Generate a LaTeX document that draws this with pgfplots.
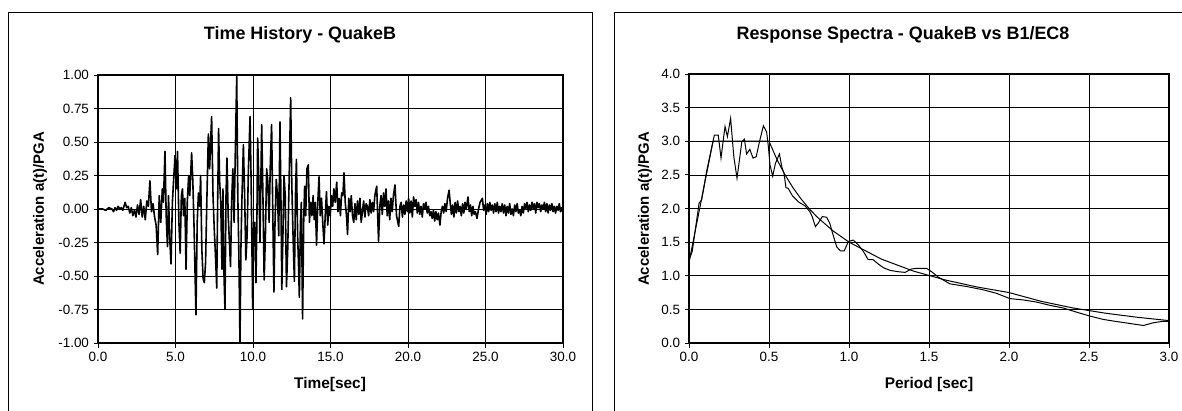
\documentclass[border=0pt]{standalone}
\usepackage{fontspec}
\setmainfont{Liberation Sans}
\usepackage{pgfplots}
\pgfplotsset{compat=1.18}

\pgfplotstableread{
t a
0.00 0.00
0.30 0.00
0.50 -0.01
0.70 0.01
0.90 0.00
1.00 -0.02
1.10 0.01
1.20 -0.01
1.30 0.02
1.40 0.00
1.50 0.01
1.60 -0.01
1.75 0.05
1.85 0.01
1.95 0.02
2.05 -0.03
2.15 0.01
2.25 -0.05
2.35 -0.01
2.45 -0.06
2.55 0.03
2.65 -0.04
2.75 0.07
2.85 -0.06
2.95 0.02
3.05 -0.08
3.15 0.06
3.25 0.02
3.35 0.21
3.45 -0.02
3.55 0.04
3.65 -0.06
3.75 -0.12
3.85 -0.34
3.95 0.10
4.05 -0.10
4.15 0.15
4.22 0.05
4.32 0.43
4.40 -0.05
4.48 -0.28
4.55 0.10
4.62 -0.20
4.71 -0.41
4.80 0.05
4.88 0.22
4.97 0.40
5.05 0.15
5.13 0.43
5.22 -0.10
5.30 -0.33
5.38 0.10
5.45 0.15
5.52 -0.05
5.60 0.08
5.68 -0.45
5.76 0.05
5.85 0.25
5.92 0.10
6.04 0.42
6.12 0.20
6.20 -0.15
6.32 -0.79
6.40 -0.10
6.48 0.12
6.56 0.02
6.62 0.25
6.70 -0.30
6.78 -0.52
6.86 -0.55
6.94 -0.40
7.02 0.05
7.12 0.56
7.20 0.30
7.33 0.69
7.42 0.10
7.50 -0.15
7.58 -0.35
7.66 -0.59
7.72 0.05
7.78 0.60
7.85 0.20
7.92 0.05
8.00 -0.45
8.06 0.15
8.12 -0.45
8.19 -0.75
8.26 0.10
8.32 0.38
8.40 -0.05
8.48 -0.25
8.55 -0.43
8.62 0.05
8.70 0.30
8.78 -0.10
8.86 0.43
8.95 0.99
9.02 0.10
9.09 -0.35
9.16 -1.00
9.22 -0.30
9.28 0.05
9.38 0.48
9.46 0.10
9.54 -0.38
9.62 -0.20
9.70 0.28
9.81 0.69
9.88 0.20
9.98 -0.75
10.04 -0.10
10.12 -0.10
10.19 -0.55
10.25 -0.10
10.30 0.53
10.38 0.20
10.45 -0.25
10.56 0.63
10.64 0.10
10.72 -0.53
10.80 -0.20
10.88 0.30
10.96 0.20
11.04 -0.10
11.12 0.35
11.20 0.63
11.28 -0.05
11.35 -0.62
11.42 -0.10
11.50 0.22
11.58 0.10
11.66 -0.20
11.74 0.65
11.80 0.10
11.86 -0.60
11.93 -0.20
12.00 0.25
12.08 0.10
12.16 -0.58
12.24 -0.30
12.32 0.15
12.43 0.83
12.50 0.20
12.58 -0.18
12.67 -0.54
12.74 0.10
12.80 0.37
12.88 -0.20
12.94 -0.43
12.99 -0.66
13.06 -0.10
13.12 0.05
13.20 -0.82
13.27 -0.10
13.33 0.17
13.40 -0.05
13.48 0.30
13.57 0.33
13.64 -0.10
13.72 0.05
13.80 -0.05
13.88 0.10
13.95 -0.08
14.02 0.05
14.10 -0.27
14.18 0.05
14.26 0.24
14.34 -0.05
14.42 0.08
14.50 -0.10
14.58 -0.26
14.66 -0.05
14.74 0.13
14.82 -0.12
14.90 0.02
14.98 -0.05
15.06 0.10
15.14 0.02
15.22 0.15
15.30 0.05
15.40 0.20
15.48 -0.02
15.56 0.08
15.64 -0.05
15.72 0.12
15.80 0.10
15.87 0.27
15.95 0.05
16.03 -0.05
16.10 -0.19
16.18 0.08
16.26 -0.02
16.34 0.10
16.42 -0.05
16.50 -0.10
16.58 0.04
16.66 -0.08
16.74 0.06
16.82 -0.04
16.90 0.08
16.98 -0.10
17.06 -0.02
17.14 0.06
17.22 -0.06
17.30 0.04
17.38 0.02
17.46 -0.05
17.54 0.07
17.62 -0.03
17.70 0.05
17.78 -0.02
17.86 0.10
17.98 0.17
18.10 -0.24
18.18 0.02
18.26 0.10
18.34 -0.04
18.42 0.12
18.50 0.02
18.58 0.15
18.66 -0.05
18.74 0.06
18.82 -0.08
18.90 0.08
18.98 -0.02
19.06 0.10
19.16 0.18
19.26 -0.05
19.40 -0.13
19.48 0.02
19.56 0.05
19.64 -0.06
19.72 0.03
19.80 -0.04
19.88 0.06
19.96 -0.02
20.04 0.08
20.12 -0.03
20.20 0.06
20.28 -0.06
20.36 0.09
20.44 0.02
20.52 0.07
20.60 -0.03
20.68 0.05
20.76 -0.04
20.84 0.02
20.92 -0.06
21.00 0.04
21.08 0.00
21.16 0.05
21.24 -0.03
21.32 0.02
21.40 -0.05
21.48 -0.02
21.56 -0.07
21.64 -0.01
21.72 -0.09
21.80 -0.02
21.88 -0.08
21.96 -0.03
22.06 -0.12
22.14 -0.02
22.22 0.02
22.30 -0.03
22.38 0.04
22.46 -0.02
22.55 0.08
22.65 0.14
22.72 0.05
22.80 -0.04
22.88 0.03
22.96 -0.06
23.04 0.05
23.12 -0.03
23.20 0.06
23.28 -0.02
23.36 0.02
23.44 -0.05
23.52 0.04
23.60 -0.03
23.68 0.05
23.76 0.00
23.87 0.09
23.95 -0.02
24.03 0.03
24.11 -0.05
24.19 0.02
24.27 -0.04
24.35 -0.02
24.45 -0.07
24.55 0.00
24.65 0.05
24.80 0.08
24.88 -0.01
24.96 0.03
25.04 -0.04
25.12 0.04
25.20 -0.02
25.28 0.05
25.36 -0.01
25.44 0.03
25.52 -0.03
25.60 0.04
25.68 -0.02
25.76 0.05
25.84 -0.03
25.92 0.02
26.00 -0.02
26.08 0.04
26.16 -0.03
26.24 0.03
26.32 -0.05
26.40 0.02
26.48 -0.03
26.56 0.04
26.64 -0.04
26.72 0.00
26.80 -0.05
26.88 0.03
26.96 -0.02
27.04 0.04
27.12 -0.03
27.20 -0.01
27.28 -0.05
27.36 0.02
27.44 -0.03
27.52 0.04
27.60 0.00
27.68 0.05
27.76 -0.02
27.84 0.03
27.92 -0.01
28.00 0.05
28.08 0.00
28.16 0.04
28.24 -0.03
28.32 0.05
28.40 0.01
28.48 0.04
28.56 -0.02
28.64 0.03
28.72 0.00
28.80 0.05
28.88 -0.02
28.96 0.04
29.04 -0.03
29.12 0.03
29.20 -0.01
29.28 0.04
29.36 -0.02
29.44 0.02
29.52 -0.03
29.60 0.02
29.68 -0.01
29.76 0.04
29.84 -0.02
29.92 0.01
30.00 -0.03
}\quakeB

% spectrum of the record
\pgfplotstableread{
T Sa
0.000 1.23
0.020 1.36
0.048 1.83
0.063 2.08
0.079 2.13
0.110 2.55
0.158 3.09
0.183 3.09
0.200 2.75
0.225 3.22
0.240 3.07
0.260 3.34
0.280 2.77
0.300 2.45
0.330 2.99
0.346 3.03
0.360 2.81
0.380 2.88
0.400 2.75
0.420 2.77
0.440 2.99
0.465 3.23
0.485 3.14
0.496 2.92
0.506 2.65
0.523 2.48
0.540 2.67
0.565 2.81
0.580 2.62
0.594 2.52
0.606 2.31
0.620 2.30
0.646 2.19
0.683 2.10
0.725 2.04
0.756 1.95
0.770 1.88
0.790 1.73
0.810 1.79
0.833 1.88
0.860 1.87
0.880 1.78
0.900 1.61
0.923 1.43
0.946 1.37
0.970 1.37
0.996 1.51
1.027 1.53
1.058 1.46
1.090 1.36
1.120 1.24
1.150 1.24
1.180 1.18
1.215 1.12
1.256 1.08
1.308 1.06
1.350 1.05
1.390 1.10
1.420 1.11
1.485 1.11
1.516 1.06
1.558 0.98
1.630 0.88
1.735 0.84
1.840 0.79
1.920 0.74
2.006 0.66
2.090 0.64
2.170 0.61
2.256 0.56
2.340 0.52
2.420 0.46
2.506 0.40
2.590 0.35
2.670 0.32
2.756 0.29
2.840 0.26
2.900 0.30
2.955 0.32
3.000 0.32
}\specB

% design spectrum B1/EC8
\pgfplotstableread{
T Sa
0.00 1.20
0.15 3.00
0.50 3.00
0.55 2.727
0.60 2.500
0.65 2.308
0.70 2.143
0.75 2.000
0.80 1.875
0.90 1.667
1.00 1.500
1.20 1.250
1.40 1.071
1.60 0.938
1.80 0.833
2.00 0.750
2.20 0.620
2.40 0.521
2.60 0.444
2.80 0.383
3.00 0.333
}\specEC

\pgfplotsset{
  excelbox/.style={
    scale only axis,
    anchor=south west,
    axis line style={black,line width=1.1bp},
    grid=major,
    major grid style={black,line width=0.7bp},
    tick align=outside,
    tick pos=left,
    major tick length=4.5bp,
    tick style={black,line width=0.8bp},
    tick label style={font=\fontsize{13.5}{15}\selectfont},
    yticklabel style={xshift=-1bp},
    xticklabel style={yshift=-1bp},
  }
}

\begin{document}
\begin{tikzpicture}[x=1bp,y=1bp]
\useasboundingbox (0,0) rectangle (1182,410);
% chart area frames
\draw[black,line width=0.8bp] (8,-2) -- (8,398) -- (592,398) -- (592,-2);
\draw[black,line width=0.8bp] (614,-2) -- (614,398) -- (1190,398);

\begin{axis}[excelbox,
    at={(98bp,67bp)}, width=465bp, height=268bp,
    xmin=0, xmax=30, ymin=-1, ymax=1,
    xtick={0,5,10,15,20,25,30},
    xticklabels={0.0,5.0,10.0,15.0,20.0,25.0,30.0},
    ytick={-1,-0.75,-0.5,-0.25,0,0.25,0.5,0.75,1},
    yticklabels={-1.00,-0.75,-0.50,-0.25,0.00,0.25,0.50,0.75,1.00},
  ]
  \addplot[black, line width=1.6bp, line join=round] table[x=t, y=a] {\quakeB};
\end{axis}

\begin{axis}[excelbox,
    at={(689bp,67bp)}, width=480bp, height=269bp,
    xmin=0, xmax=3, ymin=0, ymax=4,
    xtick={0,0.5,1,1.5,2,2.5,3},
    xticklabels={0.0,0.5,1.0,1.5,2.0,2.5,3.0},
    ytick={0,0.5,1,1.5,2,2.5,3,3.5,4},
    yticklabels={0.0,0.5,1.0,1.5,2.0,2.5,3.0,3.5,4.0},
  ]
  \addplot[black, line width=1bp] table[x=T, y=Sa] {\specB};
  \addplot[black, line width=1bp] table[x=T, y=Sa] {\specEC};
\end{axis}

% titles and axis labels
\node[font=\bfseries\fontsize{18}{20}\selectfont] at (300,375) {Time History - QuakeB};
\node[font=\bfseries\fontsize{18}{20}\selectfont] at (903,375) {Response Spectra - QuakeB vs B1/EC8};
\node[font=\bfseries\fontsize{15.5}{18}\selectfont] at (330,25) {Time[sec]};
\node[font=\bfseries\fontsize{15.5}{18}\selectfont] at (929,25) {Period [sec]};
\node[font=\bfseries\fontsize{15}{18}\selectfont, rotate=90] at (40,201) {Acceleration a(t)/PGA};
\node[font=\bfseries\fontsize{15}{18}\selectfont, rotate=90] at (645,201) {Acceleration a(t)/PGA};
\end{tikzpicture}
\end{document}
